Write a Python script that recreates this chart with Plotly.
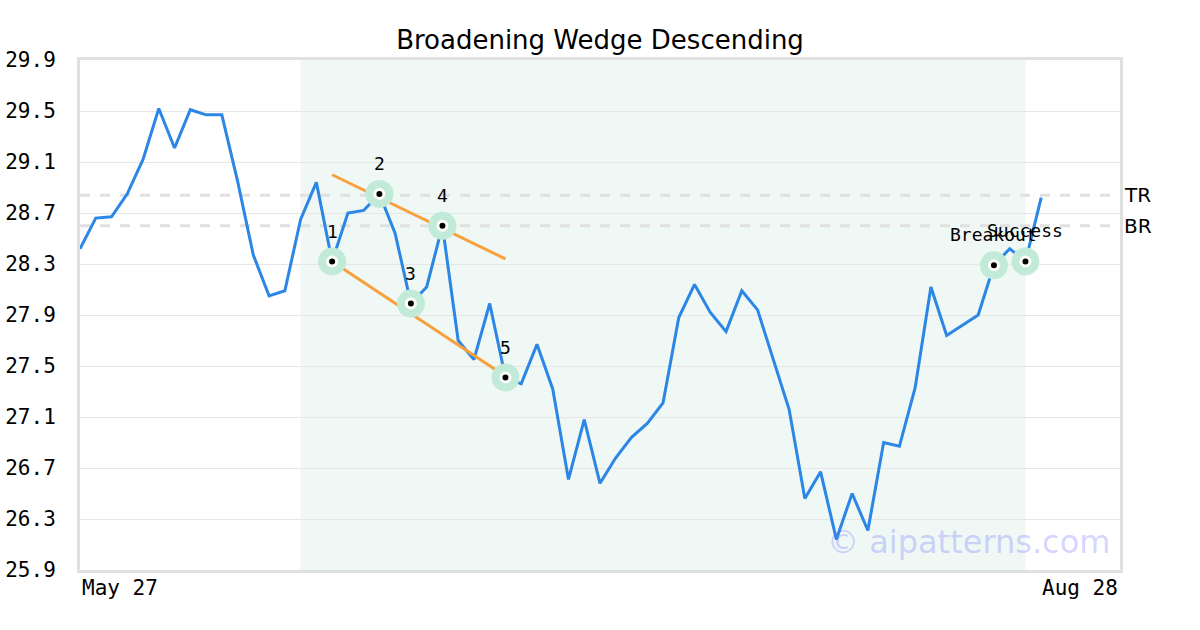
import plotly.graph_objects as go

close = [28.42, 28.66, 28.67, 28.85, 29.12, 29.52, 29.21, 29.51, 29.47, 29.47,
         28.95, 28.37, 28.05, 28.09, 28.65, 28.94, 28.32, 28.70, 28.72, 28.85,
         28.54, 27.99, 28.12, 28.60, 27.70, 27.55, 27.99, 27.41, 27.36, 27.67,
         27.32, 26.61, 27.08, 26.58, 26.78, 26.94, 27.05, 27.21, 27.88, 28.14,
         27.92, 27.77, 28.09, 27.94, 27.55, 27.16, 26.46, 26.67, 26.14, 26.50,
         26.21, 26.90, 26.87, 27.33, 28.12, 27.74, 27.82, 27.90, 28.29, 28.42,
         28.32, 28.82]
x_idx = list(range(len(close)))

pattern_idx = [16, 19, 21, 23, 27]
pattern_labels = ["1", "2", "3", "4", "5"]
event_idx = [58, 60]
event_labels = ["Breakout", "Success"]

upper_x = [16, 27]
upper_y = [29.00, 28.34]
lower_x = [16, 27]
lower_y = [28.32, 27.42]

tr_level = 28.84
br_level = 28.60
zone = [14, 60]

y_ticks = [25.9, 26.3, 26.7, 27.1, 27.5, 27.9, 28.3, 28.7, 29.1, 29.5, 29.9]
x_tick_labels = ["May 27", "Aug 28"]
x_range = [0, 66]

title = "Broadening Wedge Descending"
watermark = "© aipatterns.com"

MONO = "DejaVu Sans Mono"
SANS = "DejaVu Sans"

fig = go.Figure()

fig.add_shape(type="rect", xref="x", yref="paper", x0=zone[0], x1=zone[1], y0=0, y1=1,
              fillcolor="#eff8f5", line=dict(width=0), layer="below")

for lvl in (tr_level, br_level):
    fig.add_shape(type="line", xref="paper", yref="y", x0=0, x1=1, y0=lvl, y1=lvl,
                  line=dict(color="#e0e0e0", width=3, dash="10px,10px"), layer="below")

fig.add_trace(go.Scatter(x=x_idx, y=close, mode="lines",
                         line=dict(color="#2b86e6", width=3), hoverinfo="skip"))

fig.add_trace(go.Scatter(x=upper_x, y=upper_y, mode="lines",
                         line=dict(color="#f7a03c", width=3), hoverinfo="skip"))
fig.add_trace(go.Scatter(x=lower_x, y=lower_y, mode="lines",
                         line=dict(color="#f7a03c", width=3), hoverinfo="skip"))

mark_idx = pattern_idx + event_idx
mark_y = [close[i] for i in mark_idx]
fig.add_trace(go.Scatter(x=mark_idx, y=mark_y, mode="markers",
                         marker=dict(size=28, color="#c2ead8", line=dict(width=0)),
                         hoverinfo="skip"))
fig.add_trace(go.Scatter(x=mark_idx, y=mark_y, mode="markers",
                         marker=dict(size=9, color="black", line=dict(width=3, color="white")),
                         hoverinfo="skip"))

for i, lab in zip(pattern_idx, pattern_labels):
    fig.add_annotation(x=i, y=close[i], text=lab, showarrow=False, yshift=30,
                       font=dict(family=MONO, size=18, color="black"))
for i, lab in zip(event_idx, event_labels):
    fig.add_annotation(x=i, y=close[i], text=lab, showarrow=False, yshift=31,
                       font=dict(family=MONO, size=18, color="black"))

fig.add_annotation(xref="paper", x=1, y=tr_level, text="TR", showarrow=False,
                   xanchor="left", xshift=2, font=dict(family=SANS, size=20, color="black"))
fig.add_annotation(xref="paper", x=1, y=br_level, text="BR", showarrow=False,
                   xanchor="left", xshift=2, font=dict(family=SANS, size=20, color="black"))

fig.add_annotation(xref="paper", yref="paper", x=0, y=0, text=x_tick_labels[0],
                   showarrow=False, xanchor="left", yanchor="top", yshift=-4,
                   font=dict(family=MONO, size=21, color="black"))
fig.add_annotation(xref="paper", yref="paper", x=1, y=0, text=x_tick_labels[1],
                   showarrow=False, xanchor="right", yanchor="top", yshift=-4,
                   font=dict(family=MONO, size=21, color="black"))

fig.add_annotation(xref="paper", yref="paper", x=0.9925, y=0.055, text=watermark,
                   showarrow=False, xanchor="right", yanchor="middle",
                   font=dict(family=SANS, size=32, color="rgba(110,110,255,0.3)"))

fig.update_layout(
    width=1200, height=630,
    margin=dict(l=80, r=80, t=60, b=60, autoexpand=False),
    paper_bgcolor="white", plot_bgcolor="white",
    showlegend=False,
    title=dict(text=title, x=0.5, xref="paper", y=1 - 40 / 630, yref="container",
               xanchor="center", yanchor="middle",
               font=dict(family=SANS, size=26, color="black")),
    xaxis=dict(range=x_range, showgrid=False, zeroline=False, showticklabels=False,
               showline=True, linecolor="#e0e0e0", linewidth=3, mirror=True, ticks="",
               automargin=False),
    yaxis=dict(range=[y_ticks[0], y_ticks[-1]], tickvals=y_ticks,
               ticktext=[f"{v:.1f}" for v in y_ticks],
               showgrid=True, gridcolor="#e6e6e6", gridwidth=1, zeroline=False,
               showline=True, linecolor="#e0e0e0", linewidth=3, mirror=True, ticks="",
               ticklabelstandoff=17, automargin=False,
               tickfont=dict(family=MONO, size=21, color="black")),
)

fig.write_html("out.html", config={"displayModeBar": False},
               post_script="document.body.style.margin='0';")
